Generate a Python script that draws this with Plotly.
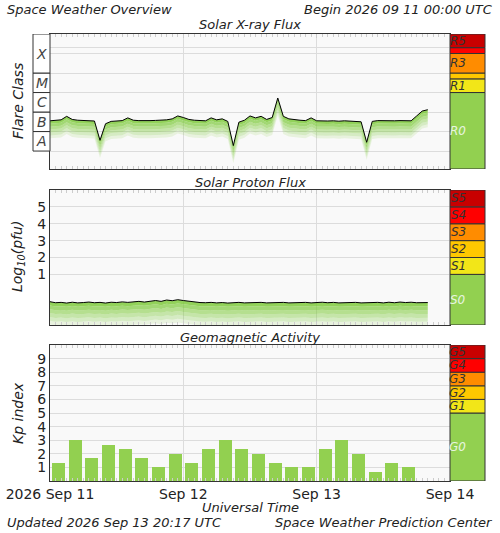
import pandas as pd
import plotly.graph_objects as go

# --- dados (log10) ---
xray_log = [-6.45, -6.42, -6.40, -6.22, -6.38, -6.42, -6.43, -6.44, -6.46, -7.45,
            -6.60, -6.48, -6.45, -6.44, -6.30, -6.42, -6.44, -6.45, -6.44, -6.43,
            -6.42, -6.40, -6.35, -6.20, -6.28, -6.38, -6.42, -6.44, -6.45, -6.30,
            -6.40, -6.35, -6.48, -7.72, -6.52, -6.42, -6.20, -6.30, -6.22, -6.38,
            -6.28, -5.28, -6.22, -6.35, -6.40, -6.42, -6.44, -6.30, -6.45, -6.47,
            -6.46, -6.45, -6.47, -6.45, -6.46, -6.48, -6.50, -7.55, -6.48, -6.44,
            -6.45, -6.43, -6.45, -6.44, -6.45, -6.45, -6.20, -5.95, -5.88]
proton_log = [-0.62, -0.68, -0.66, -0.70, -0.65, -0.69, -0.67, -0.64, -0.68, -0.66,
              -0.70, -0.65, -0.67, -0.63, -0.66, -0.62, -0.60, -0.64, -0.58, -0.55,
              -0.60, -0.52, -0.56, -0.50, -0.55, -0.60, -0.64, -0.67, -0.68, -0.66,
              -0.69, -0.67, -0.70, -0.68, -0.66, -0.69, -0.67, -0.68, -0.66, -0.69,
              -0.67, -0.68, -0.66, -0.69, -0.67, -0.68, -0.66, -0.69, -0.67, -0.65,
              -0.68, -0.66, -0.69, -0.67, -0.68, -0.66, -0.69, -0.67, -0.68, -0.66,
              -0.69, -0.65, -0.68, -0.64, -0.67, -0.65, -0.68, -0.66, -0.67]
kp = [1.33, 3, 1.67, 2.67, 2.33, 1.67, 1, 2, 1.33, 2.33, 3, 2.33,
      2, 1.33, 1, 1, 2.33, 3, 2, 0.67, 1.33, 1]

flare_classes = ["A", "B", "C", "M", "X"]
flare_edges = [-8, -7, -6, -5, -4, -2]
r_labels = ["R0", "R1", "", "R3", "", "R5"]
r_edges = [-8.92, -5, -4.3, -4, -3, -2.7, -2]
s_labels = ["S0", "S1", "S2", "S3", "S4", "S5"]
s_edges = [-2, 1, 2, 3, 4, 5, 6]
g_labels = ["G0", "G1", "G2", "G3", "G4", "G5"]
g_edges = [0, 5, 6, 7, 8, 9, 10]
escala_cores = ["#92d050", "#f2e618", "#ffc800", "#ff8c00", "#ff0000", "#c80000"]

inicio = pd.Timestamp("2026-09-11")
horas = pd.date_range(inicio, periods=len(xray_log), freq="h")
horas_kp = pd.date_range(inicio + pd.Timedelta(minutes=90), periods=len(kp), freq="3h")

FONTE = "DejaVu Sans"
H = 533
dom = {1: [1 - 169 / H, 1 - 34 / H], 2: [1 - 325 / H, 1 - 190 / H], 3: [1 - 481 / H, 1 - 345 / H]}

fig = go.Figure()


def area_degrade(x, y, xa, ya, profundidade, n=6):
    """Linha preta com preenchimento verde que some para baixo."""
    fig.add_trace(go.Scatter(x=x, y=y, xaxis=xa, yaxis=ya, mode="lines",
                             line=dict(width=0), showlegend=False, hoverinfo="skip"))
    for k in range(1, n + 1):
        a = 0.8 * (1 - (k - 1) / n)
        fig.add_trace(go.Scatter(x=x, y=[v - profundidade * k / n for v in y], xaxis=xa, yaxis=ya,
                                 mode="lines", line=dict(width=0), fill="tonexty",
                                 fillcolor=f"rgba(120,200,50,{a:.2f})", showlegend=False, hoverinfo="skip"))
    fig.add_trace(go.Scatter(x=x, y=y, xaxis=xa, yaxis=ya, mode="lines",
                             line=dict(color="black", width=1), showlegend=False))


area_degrade(horas, xray_log, "x", "y", 0.9)
area_degrade(horas, proton_log, "x2", "y2", 1.35)
fig.add_trace(go.Bar(x=horas_kp, y=kp, xaxis="x3", yaxis="y3", width=3 * 3600 * 1000 * 0.78,
                     marker=dict(color="#92d050", line=dict(width=0)), showlegend=False))

# --- barras laterais de escala ---
shapes, anns = [], []


def barra_lateral(ya, edges, labels):
    for i in range(len(edges) - 1):
        shapes.append(dict(type="rect", xref="x domain", yref=ya, x0=1.0, x1=1.0875,
                           y0=edges[i], y1=edges[i + 1], fillcolor=escala_cores[i],
                           line=dict(color="#333", width=1)))
        if labels[i]:
            anns.append(dict(xref="paper", yref=ya, x=1.044, y=(edges[i] + edges[i + 1]) / 2,
                             text=f"<i>{labels[i]}</i>", showarrow=False, yanchor="middle",
                             font=dict(family=FONTE, size=12, color="#e8f5e0" if i == 0 else "#333")))


barra_lateral("y", r_edges, r_labels)
barra_lateral("y2", s_edges, s_labels)
barra_lateral("y3", g_edges, g_labels)

# caixas das classes de flare
for i, c in enumerate(flare_classes):
    shapes.append(dict(type="rect", xref="x domain", yref="y", x0=-0.0425, x1=0,
                       y0=flare_edges[i], y1=flare_edges[i + 1], line=dict(color="#333", width=1),
                       fillcolor="white"))
    anns.append(dict(xref="paper", yref="y", x=-0.021, y=(flare_edges[i] + flare_edges[i + 1]) / 2,
                     text=f"<i>{c}</i>", showarrow=False, yanchor="middle", xanchor="center",
                     font=dict(family=FONTE, size=14, color="#444")))

# titulos e textos
textos = [
    (0.01, 1 - 10 / H, "Space Weather Overview", "left"),
    (0.99, 1 - 10 / H, "Begin 2026 09 11 00:00 UTC", "right"),
    (0.5, 1 - 25 / H, "Solar X-ray Flux", "center"),
    (0.5, 1 - 182 / H, "Solar Proton Flux", "center"),
    (0.5, 1 - 337 / H, "Geomagnetic Activity", "center"),
    (0.5, 1 - 507 / H, "Universal Time", "center"),
    (0.01, 1 - 522 / H, "Updated 2026 Sep 13 20:17 UTC", "left"),
    (0.99, 1 - 522 / H, "Space Weather Prediction Center", "right"),
]
for x, y, t, al in textos:
    anns.append(dict(xref="paper", yref="paper", x=(x * 500 - 50) / 400, y=y, text=f"<i>{t}</i>",
                     showarrow=False, xanchor=al, yanchor="middle",
                     font=dict(family=FONTE, size=13, color="#222")))
for y, t in [(1 - 101 / H, "Flare Class"), (1 - 257 / H, "Log<sub>10</sub>(pfu)"), (1 - 413 / H, "Kp index")]:
    anns.append(dict(xref="paper", yref="paper", x=-32 / 400, y=y, text=f"<i>{t}</i>", textangle=-90,
                     showarrow=False, xanchor="center", yanchor="middle",
                     font=dict(family=FONTE, size=14, color="#222")))

eixo_x = dict(type="date", range=[inicio, inicio + pd.Timedelta(days=3)], showgrid=True,
              gridcolor="#dcdcdc", dtick=86400000, ticks="inside", ticklen=4, mirror="allticks",
              linecolor="#333", showline=True, minor=dict(dtick=3600000, ticks="inside", ticklen=3,
                                                          tickcolor="#ccc", showgrid=False),
              tickcolor="#ccc", showticklabels=False)
eixo_y = dict(showline=True, linecolor="#333", mirror=True, gridcolor="#dcdcdc", zeroline=False,
              ticks="", tickfont=dict(family=FONTE, size=14, color="#222"))

fig.update_layout(
    width=500, height=533, margin=dict(l=50, r=50, t=0, b=0),
    paper_bgcolor="white", plot_bgcolor="#f9f9f9", bargap=0,
    xaxis=dict(eixo_x, anchor="y"),
    xaxis2=dict(eixo_x, anchor="y2", matches="x"),
    xaxis3=dict(eixo_x, anchor="y3", matches="x", showticklabels=True,
                tickvals=[inicio + pd.Timedelta(days=d) for d in range(4)],
                ticktext=["2026 Sep 11", "Sep 12", "Sep 13", "Sep 14"],
                tickfont=dict(family=FONTE, size=14, color="#222")),
    yaxis=dict(eixo_y, domain=dom[1], range=[-8.92, -2], tickvals=[-8, -7, -6, -5, -4, -3, -2.7],
               showticklabels=False),
    yaxis2=dict(eixo_y, domain=dom[2], range=[-2, 6], tickvals=[1, 2, 3, 4, 5]),
    yaxis3=dict(eixo_y, domain=dom[3], range=[0, 10], tickvals=list(range(1, 10))),
    shapes=shapes, annotations=anns,
)

fig.write_html("out.html", config={"displayModeBar": False},
               post_script="document.body.style.margin='0';")
